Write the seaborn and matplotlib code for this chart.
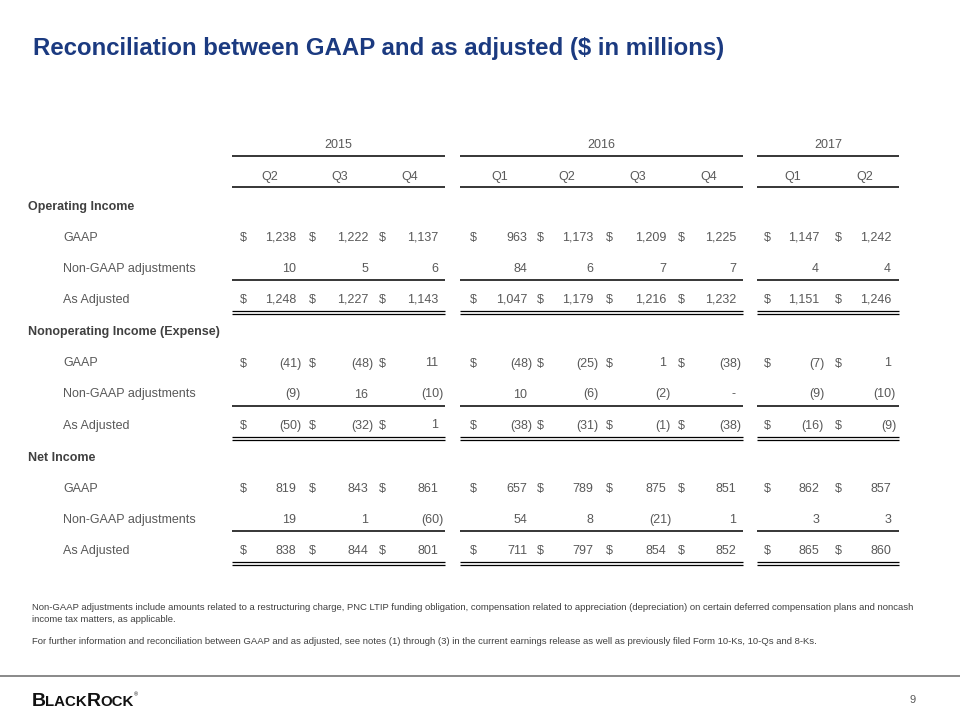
import matplotlib
matplotlib.use('Agg')
import matplotlib.pyplot as plt
import seaborn as sns

# Datos de la tabla ($ en millones)
years = ['2015', '2016', '2017']
quarters = ['Q2', 'Q3', 'Q4', 'Q1', 'Q2', 'Q3', 'Q4', 'Q1', 'Q2']

op_gaap = [1238, 1222, 1137, 963, 1173, 1209, 1225, 1147, 1242]
op_nongaap = [10, 5, 6, 84, 6, 7, 7, 4, 4]
op_adjusted = [1248, 1227, 1143, 1047, 1179, 1216, 1232, 1151, 1246]

nonop_gaap = [-41, -48, 11, -48, -25, 1, -38, -7, 1]
nonop_nongaap = [-9, 16, -10, 10, -6, -2, 0, -9, -10]
nonop_adjusted = [-50, -32, 1, -38, -31, -1, -38, -16, -9]

ni_gaap = [819, 843, 861, 657, 789, 875, 851, 862, 857]
ni_nongaap = [19, 1, -60, 54, 8, -21, 1, 3, 3]
ni_adjusted = [838, 844, 801, 711, 797, 854, 852, 865, 860]

sections = ['Operating Income', 'Nonoperating Income (Expense)', 'Net Income']
row_labels = ['GAAP', 'Non-GAAP adjustments', 'As Adjusted']
section_data = [
    [op_gaap, op_nongaap, op_adjusted],
    [nonop_gaap, nonop_nongaap, nonop_adjusted],
    [ni_gaap, ni_nongaap, ni_adjusted],
]

title = 'Reconciliation between GAAP and as adjusted ($ in millions)'
note1 = ('Non-GAAP adjustments include amounts related to a restructuring charge, PNC LTIP funding obligation, '
         'compensation related to appreciation (depreciation) on certain deferred compensation plans and noncash\n'
         'income tax matters, as applicable.')
note2 = ('For further information and reconciliation between GAAP and as adjusted, see notes (1) through (3) '
         'in the current earnings release as well as previously filed Form 10-Ks, 10-Qs and 8-Ks.')

# Layout (pixels)
val_right = [296, 368, 438, 527, 593, 666, 736, 819, 891]
dollar_x = [243, 312, 382, 473, 540, 609, 681, 767, 838]
group_span = [(232, 445), (460, 743), (757, 899)]

sns.set_theme(style='white')
plt.rcParams['font.family'] = ['Liberation Sans', 'DejaVu Sans']

GRAY = '#595959'
DARK = '#404040'
FS = 9

fig = plt.figure(figsize=(9.6, 7.2), dpi=100)
ax = fig.add_axes([0, 0, 1, 1])
ax.set_xlim(0, 960)
ax.set_ylim(720, 0)
ax.axis('off')


def fmt(v):
    if v == 0:
        return '-'
    if v < 0:
        return f'({abs(v):,})'
    return f'{v:,}'


def hline(y, x0, x1, color='black', lw=1.1):
    ax.plot([x0, x1], [y, y], color=color, lw=lw, solid_capstyle='butt')


def cell(x, y, s, ha='left', **kw):
    ax.text(x, y, s, fontsize=FS, color=kw.pop('color', GRAY), ha=ha, va='center', **kw)


# title
ax.text(33, 49, title, fontsize=17.3, fontweight='bold', color='#1b3a80', va='center', ha='left')

# headers
for (x0, x1), yr in zip(group_span, years):
    cell((x0 + x1) / 2, 145, yr, ha='center')
    hline(156, x0, x1)
    hline(187, x0, x1)
for i, q in enumerate(quarters):
    cell((dollar_x[i] + val_right[i]) / 2, 177, q, ha='center')

# body
y0 = 207
for s, (name, rows) in enumerate(zip(sections, section_data)):
    ys = y0 + s * 125.5
    cell(28, ys, name, fontweight='bold', color=DARK)
    for r, (lab, vals) in enumerate(zip(row_labels, rows)):
        yr = ys + 31 * (r + 1)
        cell(63, yr, lab)
        for i, v in enumerate(vals):
            xr = val_right[i] + (5 if v < 0 else 0)
            if v == 0:
                xr = val_right[i] - 1
            cell(xr, yr, fmt(v), ha='right')
            if r != 1:
                cell(dollar_x[i], yr, '$', ha='center')
    yl = ys + 31 * 2 + 11
    yd = ys + 31 * 3 + 11
    for x0, x1 in group_span:
        hline(yl, x0, x1)
        hline(yd, x0, x1, lw=0.9)
        hline(yd + 3, x0, x1, lw=0.9)

# footnotes
ax.text(32, 603, note1, fontsize=6.8, color=DARK, va='top', linespacing=1.45)
ax.text(32, 641, note2, fontsize=6.8, color=DARK, va='center')

# footer
hline(676, 0, 960, color='#808080', lw=1.3)
fig.canvas.draw()
renderer = fig.canvas.get_renderer()
x = 32
for part, size in [('B', 14), ('LACK', 10.8), ('R', 14), ('OCK', 10.8)]:
    t = ax.text(x, 706, part, fontsize=size, fontweight='bold', color='#111111', va='baseline', ha='left')
    bb = t.get_window_extent(renderer)
    x += bb.width - 0.5
ax.text(x + 1, 696, '®', fontsize=4, color='#111111', va='baseline', ha='left')
ax.text(916, 700, '9', fontsize=8, color=GRAY, ha='right', va='center')

fig.savefig('out.png', dpi=100)
